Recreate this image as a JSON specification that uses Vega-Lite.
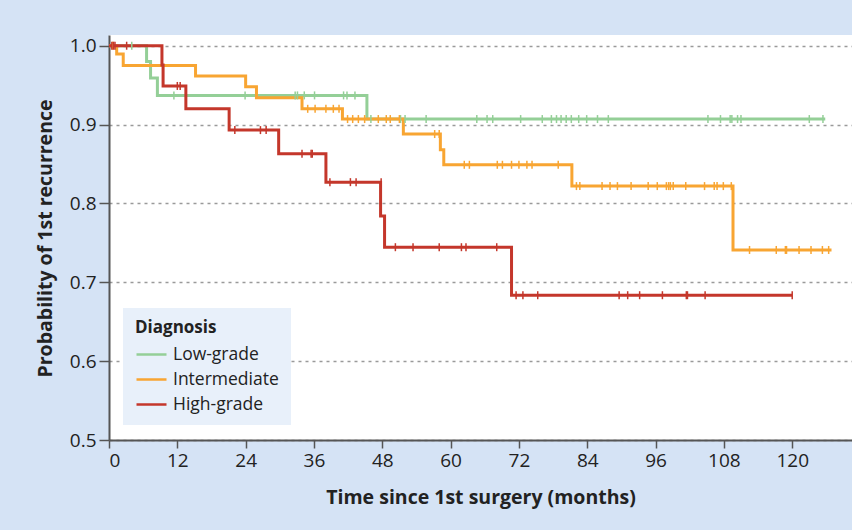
{
  "$schema": "https://vega.github.io/schema/vega-lite/v6.json",
  "width": 743,
  "height": 405,
  "autosize": {"type": "none"},
  "padding": {"left": 109, "top": 35, "right": 0, "bottom": 90},
  "background": "#d5e3f5",
  "config": {"view": {"fill": "white", "stroke": null}, "font": "Open Sans"},
  "datasets": {
    "curves": [
      {"g": "Low-grade", "t": 0, "s": 1.0},
      {"g": "Low-grade", "t": 6.6, "s": 0.98},
      {"g": "Low-grade", "t": 7.3, "s": 0.959},
      {"g": "Low-grade", "t": 8.5, "s": 0.937},
      {"g": "Low-grade", "t": 45.3, "s": 0.907},
      {"g": "Low-grade", "t": 125.8, "s": 0.907},
      {"g": "Intermediate", "t": 0, "s": 1.0},
      {"g": "Intermediate", "t": 1.35, "s": 0.9895},
      {"g": "Intermediate", "t": 2.5, "s": 0.975},
      {"g": "Intermediate", "t": 15.2, "s": 0.9615},
      {"g": "Intermediate", "t": 24.0, "s": 0.948},
      {"g": "Intermediate", "t": 25.9, "s": 0.934},
      {"g": "Intermediate", "t": 33.9, "s": 0.92},
      {"g": "Intermediate", "t": 41.0, "s": 0.907},
      {"g": "Intermediate", "t": 51.7, "s": 0.888},
      {"g": "Intermediate", "t": 58.2, "s": 0.868},
      {"g": "Intermediate", "t": 58.8, "s": 0.849},
      {"g": "Intermediate", "t": 81.3, "s": 0.822},
      {"g": "Intermediate", "t": 109.6, "s": 0.741},
      {"g": "Intermediate", "t": 126.9, "s": 0.741},
      {"g": "High-grade", "t": 0, "s": 1.0},
      {"g": "High-grade", "t": 9.3, "s": 0.9755},
      {"g": "High-grade", "t": 9.5, "s": 0.949},
      {"g": "High-grade", "t": 13.5, "s": 0.92},
      {"g": "High-grade", "t": 21.1, "s": 0.893},
      {"g": "High-grade", "t": 29.8, "s": 0.863},
      {"g": "High-grade", "t": 38.1, "s": 0.827},
      {"g": "High-grade", "t": 47.7, "s": 0.784},
      {"g": "High-grade", "t": 48.4, "s": 0.7445},
      {"g": "High-grade", "t": 70.7, "s": 0.6836},
      {"g": "High-grade", "t": 120.0, "s": 0.6836}
    ],
    "censors": [
      {"g": "Low-grade", "t": 4.0, "s": 1.0},
      {"g": "Low-grade", "t": 11.4, "s": 0.937},
      {"g": "Low-grade", "t": 23.9, "s": 0.937},
      {"g": "Low-grade", "t": 32.7, "s": 0.937},
      {"g": "Low-grade", "t": 33.1, "s": 0.937},
      {"g": "Low-grade", "t": 34.3, "s": 0.937},
      {"g": "Low-grade", "t": 36.1, "s": 0.937},
      {"g": "Low-grade", "t": 41.2, "s": 0.937},
      {"g": "Low-grade", "t": 41.8, "s": 0.937},
      {"g": "Low-grade", "t": 43.2, "s": 0.937},
      {"g": "Low-grade", "t": 46.0, "s": 0.907},
      {"g": "Low-grade", "t": 51.2, "s": 0.907},
      {"g": "Low-grade", "t": 52.0, "s": 0.907},
      {"g": "Low-grade", "t": 55.7, "s": 0.907},
      {"g": "Low-grade", "t": 64.6, "s": 0.907},
      {"g": "Low-grade", "t": 66.4, "s": 0.907},
      {"g": "Low-grade", "t": 67.4, "s": 0.907},
      {"g": "Low-grade", "t": 72.3, "s": 0.907},
      {"g": "Low-grade", "t": 76.1, "s": 0.907},
      {"g": "Low-grade", "t": 77.7, "s": 0.907},
      {"g": "Low-grade", "t": 78.6, "s": 0.907},
      {"g": "Low-grade", "t": 79.4, "s": 0.907},
      {"g": "Low-grade", "t": 80.3, "s": 0.907},
      {"g": "Low-grade", "t": 81.2, "s": 0.907},
      {"g": "Low-grade", "t": 82.5, "s": 0.907},
      {"g": "Low-grade", "t": 83.9, "s": 0.907},
      {"g": "Low-grade", "t": 85.8, "s": 0.907},
      {"g": "Low-grade", "t": 87.7, "s": 0.907},
      {"g": "Low-grade", "t": 105.2, "s": 0.907},
      {"g": "Low-grade", "t": 107.4, "s": 0.907},
      {"g": "Low-grade", "t": 109.1, "s": 0.907},
      {"g": "Low-grade", "t": 109.4, "s": 0.907},
      {"g": "Low-grade", "t": 110.4, "s": 0.907},
      {"g": "Low-grade", "t": 111.0, "s": 0.907},
      {"g": "Low-grade", "t": 123.0, "s": 0.907},
      {"g": "Low-grade", "t": 125.4, "s": 0.907},
      {"g": "Intermediate", "t": 0.65, "s": 1.0},
      {"g": "Intermediate", "t": 34.9, "s": 0.92},
      {"g": "Intermediate", "t": 36.2, "s": 0.92},
      {"g": "Intermediate", "t": 38.1, "s": 0.92},
      {"g": "Intermediate", "t": 39.4, "s": 0.92},
      {"g": "Intermediate", "t": 40.4, "s": 0.92},
      {"g": "Intermediate", "t": 41.9, "s": 0.907},
      {"g": "Intermediate", "t": 42.8, "s": 0.907},
      {"g": "Intermediate", "t": 43.8, "s": 0.907},
      {"g": "Intermediate", "t": 44.9, "s": 0.907},
      {"g": "Intermediate", "t": 47.3, "s": 0.907},
      {"g": "Intermediate", "t": 48.7, "s": 0.907},
      {"g": "Intermediate", "t": 49.4, "s": 0.907},
      {"g": "Intermediate", "t": 51.0, "s": 0.907},
      {"g": "Intermediate", "t": 57.2, "s": 0.888},
      {"g": "Intermediate", "t": 58.0, "s": 0.888},
      {"g": "Intermediate", "t": 62.4, "s": 0.849},
      {"g": "Intermediate", "t": 63.3, "s": 0.849},
      {"g": "Intermediate", "t": 68.2, "s": 0.849},
      {"g": "Intermediate", "t": 69.1, "s": 0.849},
      {"g": "Intermediate", "t": 70.7, "s": 0.849},
      {"g": "Intermediate", "t": 72.0, "s": 0.849},
      {"g": "Intermediate", "t": 73.4, "s": 0.849},
      {"g": "Intermediate", "t": 74.3, "s": 0.849},
      {"g": "Intermediate", "t": 78.9, "s": 0.849},
      {"g": "Intermediate", "t": 82.1, "s": 0.822},
      {"g": "Intermediate", "t": 82.7, "s": 0.822},
      {"g": "Intermediate", "t": 86.6, "s": 0.822},
      {"g": "Intermediate", "t": 88.0, "s": 0.822},
      {"g": "Intermediate", "t": 89.3, "s": 0.822},
      {"g": "Intermediate", "t": 91.7, "s": 0.822},
      {"g": "Intermediate", "t": 94.7, "s": 0.822},
      {"g": "Intermediate", "t": 96.3, "s": 0.822},
      {"g": "Intermediate", "t": 97.9, "s": 0.822},
      {"g": "Intermediate", "t": 98.3, "s": 0.822},
      {"g": "Intermediate", "t": 98.6, "s": 0.822},
      {"g": "Intermediate", "t": 99.1, "s": 0.822},
      {"g": "Intermediate", "t": 101.3, "s": 0.822},
      {"g": "Intermediate", "t": 104.6, "s": 0.822},
      {"g": "Intermediate", "t": 106.3, "s": 0.822},
      {"g": "Intermediate", "t": 106.8, "s": 0.822},
      {"g": "Intermediate", "t": 107.9, "s": 0.822},
      {"g": "Intermediate", "t": 109.3, "s": 0.822},
      {"g": "Intermediate", "t": 112.5, "s": 0.741},
      {"g": "Intermediate", "t": 117.2, "s": 0.741},
      {"g": "Intermediate", "t": 118.8, "s": 0.741},
      {"g": "Intermediate", "t": 119.0, "s": 0.741},
      {"g": "Intermediate", "t": 121.2, "s": 0.741},
      {"g": "Intermediate", "t": 123.3, "s": 0.741},
      {"g": "Intermediate", "t": 125.3, "s": 0.741},
      {"g": "Intermediate", "t": 126.4, "s": 0.741},
      {"g": "High-grade", "t": 0.5, "s": 1.0},
      {"g": "High-grade", "t": 0.8, "s": 1.0},
      {"g": "High-grade", "t": 1.05, "s": 1.0},
      {"g": "High-grade", "t": 3.1, "s": 1.0},
      {"g": "High-grade", "t": 12.0, "s": 0.949},
      {"g": "High-grade", "t": 12.5, "s": 0.949},
      {"g": "High-grade", "t": 22.1, "s": 0.893},
      {"g": "High-grade", "t": 26.6, "s": 0.893},
      {"g": "High-grade", "t": 27.6, "s": 0.893},
      {"g": "High-grade", "t": 33.9, "s": 0.863},
      {"g": "High-grade", "t": 35.5, "s": 0.863},
      {"g": "High-grade", "t": 35.7, "s": 0.863},
      {"g": "High-grade", "t": 38.8, "s": 0.827},
      {"g": "High-grade", "t": 42.4, "s": 0.827},
      {"g": "High-grade", "t": 43.4, "s": 0.827},
      {"g": "High-grade", "t": 47.8, "s": 0.827},
      {"g": "High-grade", "t": 50.3, "s": 0.7445},
      {"g": "High-grade", "t": 53.4, "s": 0.7445},
      {"g": "High-grade", "t": 58.0, "s": 0.7445},
      {"g": "High-grade", "t": 61.9, "s": 0.7445},
      {"g": "High-grade", "t": 62.7, "s": 0.7445},
      {"g": "High-grade", "t": 68.1, "s": 0.7445},
      {"g": "High-grade", "t": 71.5, "s": 0.6836},
      {"g": "High-grade", "t": 72.7, "s": 0.6836},
      {"g": "High-grade", "t": 75.3, "s": 0.6836},
      {"g": "High-grade", "t": 89.6, "s": 0.6836},
      {"g": "High-grade", "t": 91.1, "s": 0.6836},
      {"g": "High-grade", "t": 93.2, "s": 0.6836},
      {"g": "High-grade", "t": 97.2, "s": 0.6836},
      {"g": "High-grade", "t": 101.4, "s": 0.6836},
      {"g": "High-grade", "t": 101.6, "s": 0.6836},
      {"g": "High-grade", "t": 104.7, "s": 0.6836},
      {"g": "High-grade", "t": 120.0, "s": 0.6836}
    ]
  },
  "encoding": {
    "x": {
      "field": "t", "type": "quantitative",
      "scale": {"domain": [0, 130.5], "nice": false, "zero": false},
      "axis": {
        "values": [0, 12, 24, 36, 48, 60, 72, 84, 96, 108, 120],
        "title": "Time since 1st surgery (months)",
        "grid": false,
        "domainColor": "#555555", "domainWidth": 2,
        "tickColor": "#555555", "tickWidth": 1.5, "tickSize": 8,
        "labelFont": "Open Sans", "labelFontSize": 19, "labelColor": "#222222", "labelPadding": 3,
        "titleFont": "Open Sans", "titleFontSize": 19.5, "titleFontWeight": "bold", "titleColor": "#222222",
        "titleBaseline": "alphabetic", "titleY": 63
      }
    },
    "y": {
      "field": "s", "type": "quantitative",
      "scale": {"domain": [0.5, 1.0136], "nice": false, "zero": false},
      "axis": {
        "values": [0.5, 0.6, 0.7, 0.8, 0.9, 1.0],
        "format": ".1f",
        "title": "Probability of 1st recurrence",
        "grid": true, "gridColor": "#9a9a9a", "gridDash": [3, 4], "gridWidth": 1.5,
        "domainColor": "#555555", "domainWidth": 2,
        "tickColor": "#555555", "tickWidth": 1.5, "tickSize": 10,
        "labelFont": "Open Sans", "labelFontSize": 19, "labelColor": "#222222", "labelPadding": 3,
        "titleFont": "Open Sans", "titleFontSize": 19.5, "titleFontWeight": "bold", "titleColor": "#222222",
        "titleBaseline": "alphabetic", "titleX": -58, "titleY": 203
      }
    },
    "color": {
      "field": "g", "type": "nominal",
      "scale": {"domain": ["Low-grade", "Intermediate", "High-grade"], "range": ["#94cf97", "#f8a532", "#c4372b"]},
      "legend": {
        "title": "Diagnosis", "orient": "none", "legendX": 14, "legendY": 273,
        "symbolType": "stroke", "symbolSize": 900, "symbolStrokeWidth": 2.5,
        "fillColor": "#e8f0fa", "padding": 12,
        "titleFont": "Open Sans", "titleFontSize": 17, "titleFontWeight": "bold", "titleColor": "#222222", "titlePadding": 1,
        "labelFont": "Open Sans", "labelFontSize": 17.5, "labelColor": "#222222", "labelOffset": 5,
        "rowPadding": -8
      }
    }
  },
  "layer": [
    {
      "data": {"name": "curves"},
      "mark": {"type": "line", "interpolate": "step-after", "strokeWidth": 3}
    },
    {
      "data": {"name": "censors"},
      "mark": {"type": "point", "shape": "M0,-1L0,1", "size": 64, "filled": false, "strokeWidth": 1.5, "opacity": 1}
    }
  ]
}
